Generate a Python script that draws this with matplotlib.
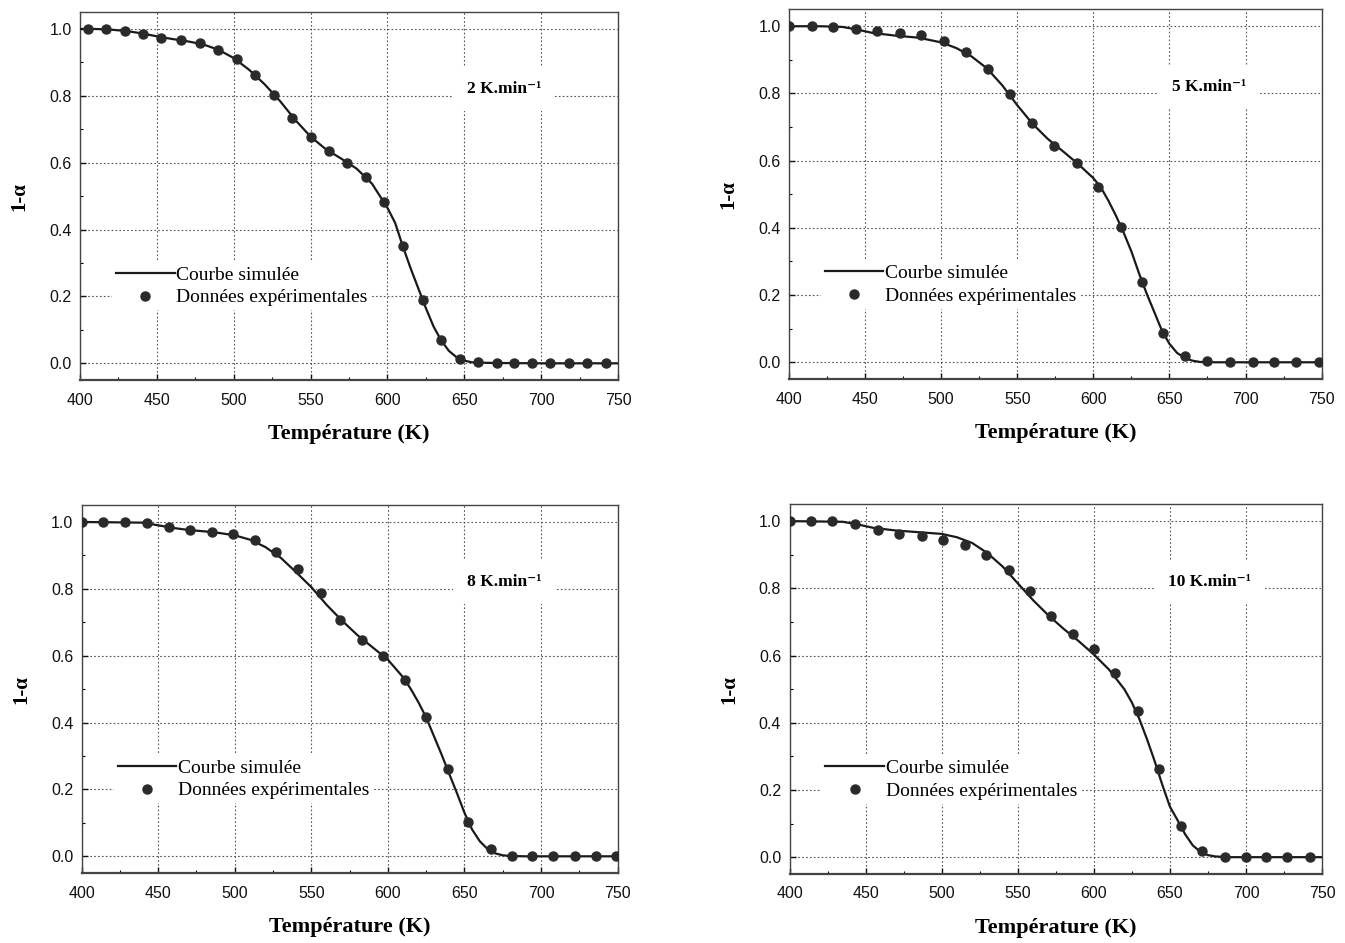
import matplotlib
matplotlib.use('Agg')
import matplotlib.pyplot as plt
from matplotlib.ticker import MultipleLocator

plt.rcParams['font.family'] = ['Liberation Serif', 'DejaVu Serif']

# 2 K/min
exp_T_2 = [405, 417, 429, 441, 453, 466, 478, 490, 502, 514, 526, 538, 550, 562,
           574, 586, 598, 610, 623, 635, 647, 659, 671, 682, 694, 706, 718, 730, 742]
exp_y_2 = [1.0, 1.0, 0.994, 0.985, 0.974, 0.967, 0.958, 0.938, 0.909, 0.863, 0.804,
           0.735, 0.677, 0.634, 0.600, 0.556, 0.482, 0.352, 0.188, 0.069, 0.014,
           0.003, 0.0, 0.0, 0.0, 0.0, 0.0, 0.0, 0.0]
sim_T_2 = [400, 410, 420, 430, 440, 450, 460, 470, 480, 490, 500, 510, 520, 530, 540,
           550, 560, 570, 580, 590, 600, 605, 610, 615, 620, 625, 630, 635, 640, 645,
           650, 655, 660, 670, 700, 750]
sim_y_2 = [1.0, 1.0, 0.998, 0.994, 0.987, 0.978, 0.970, 0.963, 0.954, 0.938, 0.913,
           0.878, 0.835, 0.785, 0.728, 0.678, 0.640, 0.612, 0.582, 0.537, 0.465, 0.42,
           0.35, 0.285, 0.225, 0.165, 0.11, 0.068, 0.037, 0.018, 0.008, 0.003, 0.002,
           0.001, 0.0, 0.0]

# 5 K/min
exp_T_5 = [400, 415, 429, 444, 458, 473, 487, 502, 516, 531, 545, 560, 574, 589, 603,
           618, 632, 646, 660, 675, 690, 705, 719, 733, 748]
exp_y_5 = [1.0, 1.0, 0.999, 0.993, 0.985, 0.979, 0.973, 0.956, 0.924, 0.872, 0.798,
           0.711, 0.643, 0.594, 0.522, 0.403, 0.238, 0.086, 0.018, 0.004, 0.0, 0.0,
           0.0, 0.0, 0.0]
sim_T_5 = [400, 420, 435, 445, 455, 470, 485, 500, 510, 520, 530, 540, 550, 560, 570,
           580, 590, 600, 605, 610, 615, 620, 625, 630, 635, 640, 645, 650, 655, 660,
           665, 670, 680, 750]
sim_y_5 = [1.0, 1.0, 0.998, 0.99, 0.98, 0.972, 0.966, 0.952, 0.935, 0.91, 0.875, 0.825,
           0.765, 0.71, 0.665, 0.628, 0.59, 0.548, 0.52, 0.48, 0.435, 0.385, 0.33,
           0.265, 0.205, 0.15, 0.095, 0.055, 0.028, 0.013, 0.005, 0.001, 0.0, 0.0]

# 8 K/min
exp_T_8 = [400, 414, 428, 443, 457, 471, 485, 499, 513, 527, 541, 556, 569, 583, 597,
           611, 625, 639, 652, 667, 681, 694, 708, 722, 736, 749]
exp_y_8 = [1.0, 1.0, 1.0, 0.996, 0.984, 0.976, 0.971, 0.965, 0.945, 0.911, 0.858,
           0.787, 0.707, 0.647, 0.599, 0.527, 0.418, 0.262, 0.103, 0.021, 0.002, 0.0,
           0.0, 0.0, 0.0, 0.0]
sim_T_8 = [400, 440, 450, 460, 470, 480, 490, 500, 510, 520, 530, 540, 550, 560, 570,
           580, 590, 600, 610, 615, 620, 625, 630, 635, 640, 645, 650, 655, 660, 665,
           670, 675, 680, 690, 750]
sim_y_8 = [1.0, 0.998, 0.99, 0.982, 0.976, 0.972, 0.967, 0.96, 0.947, 0.925, 0.893,
           0.85, 0.805, 0.752, 0.705, 0.662, 0.625, 0.588, 0.535, 0.5, 0.46, 0.415,
           0.36, 0.305, 0.247, 0.19, 0.13, 0.08, 0.045, 0.022, 0.009, 0.003, 0.001,
           0.0, 0.0]

# 10 K/min
exp_T_10 = [400, 414, 428, 443, 458, 472, 487, 501, 515, 529, 544, 558, 572, 586, 600,
            614, 629, 643, 657, 671, 686, 700, 713, 727, 742]
exp_y_10 = [1.0, 1.0, 1.0, 0.992, 0.974, 0.963, 0.955, 0.945, 0.928, 0.899, 0.856,
            0.793, 0.717, 0.663, 0.619, 0.549, 0.435, 0.263, 0.093, 0.018, 0.0, 0.0,
            0.0, 0.0, 0.0]
sim_T_10 = [400, 435, 445, 455, 470, 485, 500, 510, 520, 530, 540, 550, 560, 570, 580,
            590, 600, 610, 620, 625, 630, 635, 640, 645, 650, 655, 660, 665, 670, 675,
            680, 690, 750]
sim_y_10 = [1.0, 0.998, 0.99, 0.98, 0.972, 0.967, 0.962, 0.952, 0.935, 0.905, 0.865,
            0.815, 0.765, 0.72, 0.68, 0.643, 0.603, 0.558, 0.5, 0.46, 0.41, 0.35,
            0.285, 0.215, 0.15, 0.11, 0.068, 0.035, 0.016, 0.006, 0.002, 0.0, 0.0]

rates = ['2 K.min⁻¹', '5 K.min⁻¹', '8 K.min⁻¹', '10 K.min⁻¹']
panels = [(exp_T_2, exp_y_2, sim_T_2, sim_y_2),
          (exp_T_5, exp_y_5, sim_T_5, sim_y_5),
          (exp_T_8, exp_y_8, sim_T_8, sim_y_8),
          (exp_T_10, exp_y_10, sim_T_10, sim_y_10)]
boxes = [[0.0595, 0.597, 0.400, 0.390],
         [0.5866, 0.598, 0.396, 0.392],
         [0.0607, 0.0742, 0.3985, 0.390],
         [0.587, 0.0732, 0.396, 0.392]]

fig = plt.figure(figsize=(13.45, 9.43), dpi=100)
tickfont = ['Liberation Sans Narrow', 'Liberation Sans', 'DejaVu Sans']

for box, (eT, ey, sT, sy), rate in zip(boxes, panels, rates):
    ax = fig.add_axes(box)
    ax.set_xlim(400, 750)
    ax.set_ylim(-0.05, 1.05)
    ax.xaxis.set_major_locator(MultipleLocator(50))
    ax.xaxis.set_minor_locator(MultipleLocator(25))
    ax.yaxis.set_major_locator(MultipleLocator(0.2))
    ax.yaxis.set_minor_locator(MultipleLocator(0.1))
    ax.yaxis.set_major_formatter(matplotlib.ticker.FormatStrFormatter('%.1f'))
    ax.grid(True, which='major', color='#555555', linestyle=(0, (1.5, 2)), linewidth=0.8)
    ax.tick_params(which='both', direction='in', top=False, right=False)
    ax.tick_params(which='major', length=4, width=1, labelsize=11.5, colors='#111111')
    ax.tick_params(axis='x', which='major', pad=9)
    ax.tick_params(axis='y', which='major', pad=6)
    ax.tick_params(which='minor', length=2.5, width=0.8)
    for lab in ax.get_xticklabels() + ax.get_yticklabels():
        lab.set_family(tickfont)
    for s in ax.spines.values():
        s.set_color('#444444')
        s.set_linewidth(1.0)
    ax.spines['bottom'].set_linewidth(1.6)

    ax.plot(sT, sy, color='#1a1a1a', lw=1.6, label='Courbe simulée', zorder=3)
    ax.plot(eT, ey, 'o', color='#2a2a2a', ms=6.5, label='Données expérimentales', zorder=4)

    ax.set_xlabel('Température (K)', fontsize=16, fontweight='bold', labelpad=12)
    ax.set_ylabel('1-α', fontsize=15, fontweight='bold', labelpad=14)

    leg = ax.legend(loc='upper left', bbox_to_anchor=(0.06, 0.32), frameon=True,
                    fontsize=14, handlelength=3.0, handletextpad=0.1,
                    borderpad=0.2, labelspacing=0.25, borderaxespad=0)
    leg.get_frame().set_facecolor('white')
    leg.get_frame().set_edgecolor('none')
    leg.get_frame().set_alpha(1)

    ax.text(676, 0.82, rate, fontsize=12.5, fontweight='bold', ha='center', va='center',
            bbox=dict(facecolor='white', edgecolor='none', pad=10), zorder=5)

fig.savefig('out.png', dpi=100)
